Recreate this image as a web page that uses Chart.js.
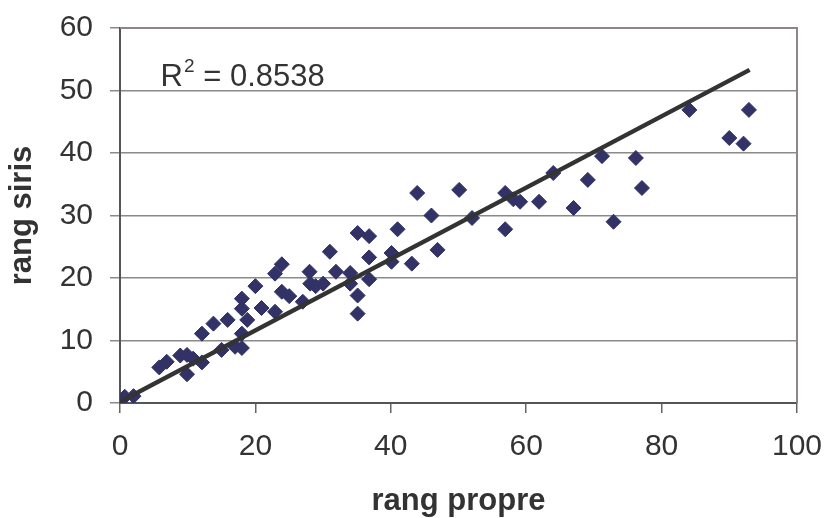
<!DOCTYPE html>
<html>
<head>
<meta charset="utf-8">
<script src="https://cdn.jsdelivr.net/npm/chart.js@4"></script>
<style>
  html, body { margin: 0; padding: 0; background: #ffffff; }
  #wrap { width: 828px; height: 518px; }
</style>
</head>
<body>
<div id="wrap"><canvas id="c" width="828" height="518"></canvas></div>
<script>
// ---- data ----
const rangPropre = [0, 0.7, 2.0, 5.8, 6.9, 8.9, 9.9, 10.8, 9.9, 12.1, 12.1, 13.8, 15.0,
  15.9, 17.0, 18.0, 18.0, 18.8, 18.0, 18.0, 20.0, 20.9, 22.9, 23.9, 25.0, 22.9, 23.9,
  27.0, 28.0, 28.1, 28.9, 30.0, 31.0, 31.9, 34.0, 34.0, 35.1, 35.1, 35.1, 36.8, 36.8,
  36.8, 40.1, 40.1, 41.0, 43.1, 43.9, 46.0, 46.9, 50.1, 52.0, 56.9, 56.9, 58.1, 59.1,
  61.9, 64.0, 67.0, 69.1, 71.2, 72.9, 76.2, 77.1, 84.1, 90.0, 92.1, 92.9];
const rangSiris = [0.3, 1.0, 1.1, 5.7, 6.6, 7.6, 7.7, 7.1, 4.6, 6.5, 11.1, 12.7, 8.5,
  13.3, 9.0, 8.8, 11.1, 13.3, 15.1, 16.7, 18.7, 15.2, 14.6, 17.8, 17.1, 20.7, 22.2,
  16.2, 21.0, 19.1, 18.7, 19.1, 24.2, 21.0, 20.8, 19.1, 27.2, 17.2, 14.3, 26.7, 23.3,
  19.8, 24.0, 22.6, 27.8, 22.3, 33.6, 30.0, 24.5, 34.1, 29.6, 33.6, 27.8, 32.6, 32.2,
  32.2, 36.8, 31.2, 35.7, 39.5, 29.0, 39.2, 34.4, 46.9, 42.4, 41.5, 46.9];
const trendX = [0, 93];
const trendY = [0.2, 53.3];
const xTickValues = [0, 20, 40, 60, 80, 100];
const yTickValues = [0, 10, 20, 30, 40, 50, 60];
const xTitle = 'rang propre';
const yTitle = 'rang siris';
const r2Parts = ['R', '2', ' = 0.8538'];
const r2Anchor = [6, 50.8];

// ---- chart ----
const FONT = "'Liberation Sans', Arial, sans-serif";
const TXT = '#333333';

const scatterPoints = rangPropre.map((x, i) => ({ x: x, y: rangSiris[i] }));
const trendPoints = trendX.map((x, i) => ({ x: x, y: trendY[i] }));

const framePlugin = {
  id: 'frame',
  beforeDatasetsDraw(chart) {
    const { ctx, chartArea: a } = chart;
    ctx.save();
    ctx.strokeStyle = '#8f8585';
    ctx.lineWidth = 2;
    ctx.beginPath();
    ctx.moveTo(a.left, a.top);
    ctx.lineTo(a.right, a.top);
    ctx.lineTo(a.right, a.bottom);
    ctx.stroke();
    ctx.restore();
  },
  afterDraw(chart) {
    const { ctx } = chart;
    const xs = chart.scales.x, ys = chart.scales.y;
    let px = xs.getPixelForValue(r2Anchor[0]);
    const py = ys.getPixelForValue(r2Anchor[1]);
    ctx.save();
    ctx.fillStyle = TXT;
    ctx.textBaseline = 'alphabetic';
    ctx.textAlign = 'left';
    ctx.font = '31px ' + FONT;
    ctx.fillText(r2Parts[0], px, py);
    px += ctx.measureText(r2Parts[0]).width + 1;
    ctx.font = '19px ' + FONT;
    ctx.fillText(r2Parts[1], px, py - 14);
    px += ctx.measureText(r2Parts[1]).width;
    ctx.font = '31px ' + FONT;
    ctx.fillText(r2Parts[2], px, py);
    ctx.restore();
  }
};

new Chart(document.getElementById('c'), {
  data: {
    datasets: [
      {
        type: 'line',
        data: trendPoints,
        borderColor: '#333333',
        borderWidth: 4.5,
        pointRadius: 0,
        fill: false,
        tension: 0
      },
      {
        type: 'scatter',
        data: scatterPoints,
        pointStyle: 'rectRot',
        pointRadius: 7.5,
        pointBackgroundColor: '#323266',
        pointBorderColor: '#323266',
        pointBorderWidth: 1
      }
    ]
  },
  options: {
    responsive: false,
    animation: false,
    devicePixelRatio: 1,
    layout: { padding: { left: 0, right: 31, top: 28, bottom: 0 } },
    plugins: { legend: { display: false }, tooltip: { enabled: false } },
    scales: {
      x: {
        type: 'linear',
        min: 0, max: 100,
        afterBuildTicks: s => { s.ticks = xTickValues.map(v => ({ value: v })); },
        afterFit: s => { s.height = 115; s.paddingLeft = 0; s.paddingRight = 0; },
        grid: { drawOnChartArea: false, drawTicks: true, tickLength: 10, color: '#666666', lineWidth: 1.5 },
        border: { display: true, color: '#555555', width: 2 },
        ticks: { color: TXT, font: { family: FONT, size: 30 }, padding: 16, maxRotation: 0, autoSkip: false },
        title: { display: true, text: xTitle, color: TXT, font: { family: FONT, size: 31, weight: 'bold', lineHeight: 1.0 }, padding: { top: 0, bottom: 1.5 } }
      },
      y: {
        type: 'linear',
        min: 0, max: 60,
        afterBuildTicks: s => { s.ticks = yTickValues.map(v => ({ value: v })); },
        afterFit: s => { s.width = 120; s.paddingTop = 0; s.paddingBottom = 0; },
        grid: { drawOnChartArea: true, drawTicks: true, tickLength: 10, color: '#8a8a8a', lineWidth: 1.5 },
        border: { display: true, color: '#555555', width: 2 },
        ticks: { color: TXT, font: { family: FONT, size: 30 }, padding: 17, autoSkip: false },
        title: { display: true, text: yTitle, color: TXT, font: { family: FONT, size: 31, weight: 'bold', lineHeight: 1.2 }, padding: { top: 4, bottom: 0 } }
      }
    }
  },
  plugins: [framePlugin]
});
</script>
</body>
</html>
